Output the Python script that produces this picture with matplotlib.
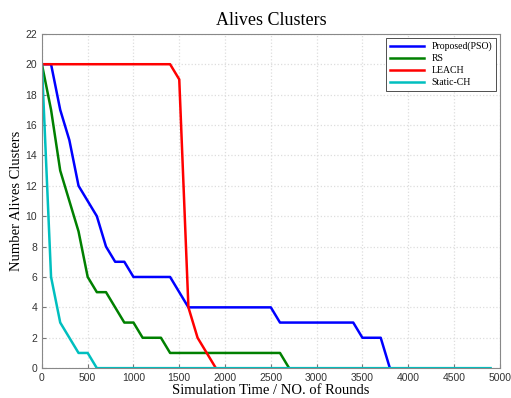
import numpy as np
import matplotlib.pyplot as plt

# rounds sampled every 100
rounds = np.arange(0, 5000, 100)

pso = [20, 20, 17, 15, 12, 11, 10, 8, 7, 7, 6, 6, 6, 6, 6, 5, 4, 4, 4, 4,
       4, 4, 4, 4, 4, 4, 3, 3, 3, 3, 3, 3, 3, 3, 3, 2, 2, 2, 0]
rs = [20, 17, 13, 11, 9, 6, 5, 5, 4, 3, 3, 2, 2, 2, 1, 1, 1, 1, 1, 1,
      1, 1, 1, 1, 1, 1, 1, 0]
leach = [20, 20, 20, 20, 20, 20, 20, 20, 20, 20, 20, 20, 20, 20, 20, 19, 4, 2, 1, 0]
static_ch = [20, 6, 3, 2, 1, 1, 0] + [0] * 43

fig = plt.figure(figsize=(5.11, 3.98), dpi=100)
ax = fig.add_axes([0.082, 0.075, 0.896, 0.84])

ax.plot(rounds[:len(pso)], pso, color='#0000ff', lw=1.8, label='Proposed(PSO)')
ax.plot(rounds[:len(rs)], rs, color='#008000', lw=1.8, label='RS')
ax.plot(rounds[:len(leach)], leach, color='#ff0000', lw=1.8, label='LEACH')
ax.plot(rounds[:len(static_ch)], static_ch, color='#00bfbf', lw=1.8, label='Static-CH')

ax.set_xlim(0, 5000)
ax.set_ylim(0, 22)
ax.set_xticks(np.arange(0, 5001, 500))
ax.set_yticks(np.arange(0, 23, 2))
ax.tick_params(direction='in', labelsize=7.5, length=3, colors='#777777',
               labelcolor='#333333')
for lbl in ax.get_xticklabels() + ax.get_yticklabels():
    lbl.set_family('Liberation Sans')
for sp in ax.spines.values():
    sp.set_color('#888888')
    sp.set_linewidth(0.8)
ax.grid(True, color='#dddddd', linestyle=':', linewidth=0.9)

ax.set_title('Alives Clusters', family='Liberation Serif', fontsize=13)
ax.set_xlabel('Simulation Time / NO. of Rounds', family='Liberation Serif', fontsize=10.5, labelpad=1)
ax.set_ylabel('Number Alives Clusters', family='Liberation Serif', fontsize=10.5, labelpad=2)

leg = ax.legend(loc='upper right', prop={'family': 'Liberation Serif', 'size': 7},
                fancybox=False, edgecolor='#333333', framealpha=1,
                handlelength=3.5, borderaxespad=0.4, labelspacing=0.3)
leg.get_frame().set_linewidth(0.6)

fig.savefig('out.png', dpi=100)
